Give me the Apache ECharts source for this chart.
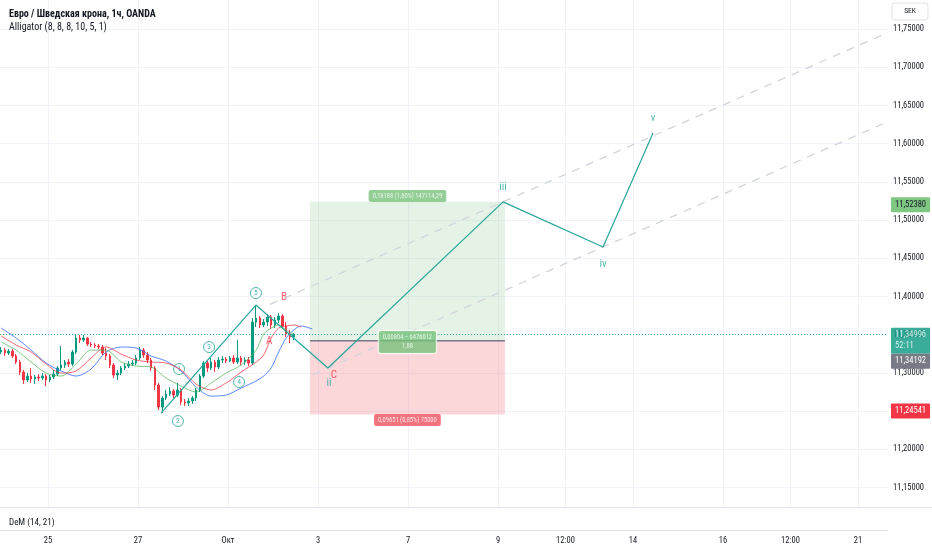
<!DOCTYPE html>
<html><head><meta charset="utf-8">
<script src="https://cdn.jsdelivr.net/npm/echarts@6/dist/echarts.min.js"></script>
<style>html,body{margin:0;padding:0;background:#fff}#c{width:932px;height:550px}</style>
</head><body><div id="c"></div>
<script>
// ---------- DATA ----------
// time unit: trading hours from 25 Sep 00:00
const candleStartHour = -25;
const candleStepHours = 2;
const candleOpen = [11.3272,11.3298,11.3259,11.3285,11.3220,11.3141,11.3010,11.2906,11.2958,11.2919,
11.2945,11.2932,11.2958,11.2906,11.2945,11.2984,11.3063,11.3102,11.3141,11.3115,
11.3272,11.3456,11.3429,11.3456,11.3377,11.3364,11.3351,11.3338,11.3259,11.3220,
11.3102,11.2971,11.2997,11.3063,11.3089,11.3115,11.3128,11.3194,11.3298,11.3233,
11.3168,11.3063,11.2840,11.2552,11.2670,11.2723,11.2762,11.2709,11.2775,11.2618,
11.2605,11.2631,11.2670,11.2775,11.2958,11.3128,11.3063,11.3141,11.3076,11.3168,
11.3181,11.3154,11.3194,11.3141,11.3194,11.3141,11.3168,11.3128,11.3665,11.3717,
11.3626,11.3665,11.3730,11.3626,11.3691,11.3743,11.3613,11.3508,11.3469];
const candleClose = [11.3298,11.3259,11.3285,11.3220,11.3141,11.3010,11.2906,11.2958,11.2919,11.2945,
11.2932,11.2958,11.2906,11.2945,11.2984,11.3063,11.3102,11.3141,11.3115,11.3272,
11.3456,11.3429,11.3456,11.3377,11.3364,11.3351,11.3338,11.3259,11.3220,11.3102,
11.2971,11.2997,11.3063,11.3089,11.3115,11.3128,11.3194,11.3298,11.3233,11.3168,
11.3063,11.2840,11.2552,11.2670,11.2723,11.2762,11.2709,11.2775,11.2618,11.2605,
11.2631,11.2670,11.2775,11.2958,11.3128,11.3063,11.3141,11.3076,11.3168,11.3181,
11.3154,11.3194,11.3141,11.3194,11.3141,11.3168,11.3128,11.3665,11.3717,11.3626,
11.3665,11.3730,11.3626,11.3691,11.3743,11.3613,11.3508,11.3469,11.34996];
const candleLow = [11.3246,11.3220,11.3233,11.3194,11.3115,11.2971,11.2853,11.2880,11.2867,11.2853,
11.2893,11.2906,11.2827,11.2880,11.2919,11.2958,11.3037,11.3063,11.3076,11.3089,
11.3246,11.3390,11.3403,11.3351,11.3338,11.3325,11.3312,11.3233,11.3168,11.3063,
11.2932,11.2906,11.2971,11.3037,11.3063,11.3089,11.3102,11.3168,11.3194,11.3128,
11.3024,11.2775,11.2513,11.2474,11.2644,11.2696,11.2670,11.2683,11.2579,11.2565,
11.2565,11.2592,11.2631,11.2749,11.2932,11.3010,11.3037,11.3010,11.3050,11.3128,
11.3128,11.3141,11.3115,11.3115,11.3102,11.3102,11.3089,11.3102,11.3599,11.3586,
11.3599,11.3613,11.3573,11.3586,11.3652,11.3573,11.3469,11.3390,11.3429];
const candleHigh = [11.3338,11.3325,11.3312,11.3312,11.3246,11.3168,11.3037,11.2997,11.3063,11.2971,
11.2984,11.2997,11.2984,11.2971,11.3037,11.3089,11.3351,11.3168,11.3181,11.3298,
11.3495,11.3495,11.3495,11.3469,11.3403,11.3390,11.3377,11.3364,11.3325,11.3246,
11.3128,11.3037,11.3089,11.3128,11.3154,11.3168,11.3233,11.3338,11.3325,11.3272,
11.3194,11.3089,11.2867,11.2696,11.2775,11.2814,11.2788,11.2867,11.2801,11.2657,
11.2670,11.2696,11.2801,11.2984,11.3154,11.3168,11.3194,11.3168,11.3207,11.3220,
11.3207,11.3220,11.3233,11.3429,11.3220,11.3207,11.3207,11.3717,11.3874,11.3743,
11.3704,11.3770,11.3757,11.3730,11.3783,11.3770,11.3665,11.3560,11.3521];

// Alligator lines (sampled)
const allyHours = [-25,-17,-9,-1,7,15,23,31,39,47,55,63,71,79,87,95,103,111,115,119,123,127,131,135,141];
const jawValues = [11.3586,11.3456,11.3298,11.3128,11.3024,11.2958,11.3050,11.3272,11.3338,11.3325,11.3220,11.3154,11.3024,11.2814,11.2696,11.2709,11.2801,11.2893,11.2958,11.3063,11.3272,11.3456,11.3560,11.3613,11.3573];
const teethValues = [11.3482,11.3364,11.3272,11.3115,11.2997,11.3024,11.3194,11.3338,11.3246,11.3168,11.3141,11.3128,11.3037,11.2853,11.2775,11.2867,11.3010,11.3141,11.3233,11.3456,11.3586,11.3613,11.3626,11.3599];
const lipsValues = [11.3403,11.3298,11.3141,11.2997,11.2958,11.3115,11.3298,11.3298,11.3141,11.3089,11.3076,11.2932,11.2827,11.2749,11.2867,11.2997,11.3102,11.3298,11.3508,11.3586,11.3626,11.3560,11.3508];

// Elliott wave path (start -> 5 -> C/ii -> iii -> iv -> v)
const waveHours  = [60.3, 110.9, 149.3, 242.7, 296.0, 322.7];
const wavePrices = [11.2474, 11.3887, 11.3063, 11.5238, 11.4647, 11.6139];

// Channel (dashed)
const lowerChannelHours = [141.3, 448];
const lowerChannelPrices = [11.2977, 11.6288];
const upperChannelHours = [118.4, 448];
const upperChannelPrices = [11.3896, 11.7455];

// Circled impulse labels
const circledText   = ['1','2','3','4','5'];
const circledHours  = [69.9, 69.3, 85.9, 101.9, 110.9];
const circledPrices = [11.3050, 11.2369, 11.3338, 11.2880, 11.4045];

// Sub-wave labels (teal) and correction labels (red)
const waveText   = ['ii','iii','iv','v'];
const waveTHours = [149.9, 242.7, 296.0, 322.7];
const waveTPrices= [11.2867, 11.5432, 11.4424, 11.6335];
const abcText    = ['A','B','C'];
const abcHours   = [117.9, 125.9, 152.5];
const abcPrices  = [11.3416, 11.3992, 11.2971];

// Long position
const posStartHour = 139.7, posEndHour = 243.7, posMidHour = 191.7;
const tpPrice = 11.5238, entryPrice = 11.34192, slPrice = 11.24541;
const posLabelTexts = ['0,18188 (1,60%) 147114,29', '0,00804 − 6476012\n1,88', '0,09651 (0,85%) 75000'];
const posLabelPrices = [11.5314, 11.3403, 11.2382];

const lastPrice = 11.34996, countdown = '52:11';

// Axes
const yTicks = [11.15,11.20,11.25,11.30,11.35,11.40,11.45,11.50,11.55,11.60,11.65,11.70,11.75];
const xTickHours  = [0,48,96,144,192,240,276,312,360,396,432];
const xTickLabels = ['25','27','Окт','3','7','9','12:00','14','16','12:00','21'];

// ---------- CHART ----------
const FONT = "'Liberation Sans Narrow','Roboto Condensed','Liberation Sans',sans-serif";
const TXT = '#131722';
const chart = echarts.init(document.getElementById('c'), null, {renderer:'canvas'});

const candleData = candleOpen.map((o,i)=>[candleStartHour + i*candleStepHours, o, candleClose[i], candleLow[i], candleHigh[i]]);
const zip = (xs, ys) => ys.map((y,i)=>[xs[i], y]);
const fmtPrice = v => v.toFixed(5).replace('.', ',');

const X_MIN = -25.6, X_MAX = 448;
const Y_MIN = 11.1244, Y_MAX = 11.788;

const tagLabel = (text, bg, fg, offY) => ({
  show:true, position:'end', formatter:text, distance:3,
  backgroundColor:bg, color:fg, padding:[2,4,2,4], fontSize:8.5, fontFamily:FONT,
  lineHeight:11, borderRadius:1, offset:[0,offY||0]
});
const hiddenLine = {color:'rgba(0,0,0,0)', width:0};

const option = {
  animation:false,
  backgroundColor:'#fff',
  title:[
    {text:'Евро / Шведская крона, 1ч, OANDA', left:4, top:4, textStyle:{fontSize:10, fontWeight:'bold', color:TXT, fontFamily:FONT}},
    {text:'Alligator (8, 8, 8, 10, 5, 1)', left:4, top:17, textStyle:{fontSize:10, fontWeight:'normal', color:TXT, fontFamily:FONT}},
    {text:'DeM (14, 21)', left:4, top:513, textStyle:{fontSize:9, fontWeight:'normal', color:TXT, fontFamily:FONT}}
  ],
  grid:[
    {left:0, right:44, top:0, height:507},
    {left:0, right:44, top:508, height:22}
  ],
  xAxis:[
    {gridIndex:0, type:'value', min:X_MIN, max:X_MAX,
     axisLine:{show:false}, axisTick:{show:false, customValues:xTickHours},
     axisLabel:{show:false},
     splitLine:{show:true, lineStyle:{color:'#f0f3fa', width:1}}},
    {gridIndex:1, type:'value', min:X_MIN, max:X_MAX,
     axisLine:{show:true, lineStyle:{color:'#e0e3eb'}}, axisTick:{show:false, customValues:xTickHours},
     splitLine:{show:false},
     axisLabel:{show:true, customValues:xTickHours, margin:6, fontSize:8.5, color:TXT, fontFamily:FONT,
       formatter:v=>{const k=xTickHours.findIndex(h=>Math.abs(h-v)<0.01);return k>=0?xTickLabels[k]:'';}}}
  ],
  yAxis:[
    {gridIndex:0, type:'value', position:'right', min:Y_MIN, max:Y_MAX,
     axisLine:{show:false}, axisTick:{show:false, customValues:yTicks},
     axisLabel:{show:true, customValues:yTicks, margin:5, fontSize:8.5, color:TXT, fontFamily:FONT, formatter:fmtPrice},
     splitLine:{show:true, lineStyle:{color:'#f0f3fa', width:1}}},
    {gridIndex:1, type:'value', show:false, min:0, max:100}
  ],
  graphic:[
    {type:'line', shape:{x1:0,y1:507.5,x2:932,y2:507.5}, style:{stroke:'#e0e3eb', lineWidth:1}, silent:true},
    {type:'rect', shape:{x:892,y:3,width:36,height:17,r:3}, style:{fill:'#fff', stroke:'#e0e3eb', lineWidth:1}},
    {type:'text', x:910, y:11.5, style:{text:'SEK', fill:TXT, fontSize:7.5, fontFamily:FONT, align:'center', verticalAlign:'middle'}}
  ],
  series:[
    { // position box
      type:'line', data:[], xAxisIndex:0, yAxisIndex:0, silent:true,
      markArea:{silent:true, data:[
        [{coord:[posStartHour, tpPrice], itemStyle:{color:'rgba(76,175,80,0.15)'}},{coord:[posEndHour, entryPrice]}],
        [{coord:[posStartHour, entryPrice], itemStyle:{color:'rgba(242,54,69,0.2)'}},{coord:[posEndHour, slPrice]}]
      ]}
    },
    { type:'line', data:zip(upperChannelHours, upperChannelPrices), showSymbol:false, silent:true,
      lineStyle:{color:'#d1d4dc', width:1.3, type:[8,7]} },
    { type:'line', data:zip(lowerChannelHours, lowerChannelPrices), showSymbol:false, silent:true,
      lineStyle:{color:'#d1d4dc', width:1.3, type:[8,7]} },
    { type:'line', data:zip(allyHours, jawValues), showSymbol:false, smooth:0.3, silent:true,
      lineStyle:{color:'#2962ff', width:1, opacity:0.75} },
    { type:'line', data:zip(allyHours, teethValues), showSymbol:false, smooth:0.3, silent:true,
      lineStyle:{color:'#f23645', width:1, opacity:0.75} },
    { type:'line', data:zip(allyHours, lipsValues), showSymbol:false, smooth:0.3, silent:true,
      lineStyle:{color:'#4caf50', width:1, opacity:0.7} },
    { type:'candlestick', data:candleData, encode:{x:0, y:[1,2,3,4]}, barWidth:2.2,
      itemStyle:{color:'#089981', color0:'#f23645', borderColor:'#089981', borderColor0:'#f23645', borderWidth:1},
      markLine:{silent:true, symbol:['none','none'], animation:false, data:[
        {yAxis:lastPrice, lineStyle:{type:[1,2], color:'#089981', width:1, opacity:0.8},
          label:tagLabel(fmtPrice(lastPrice)+'\n'+countdown, '#089981', '#fff', 6)},
        {yAxis:entryPrice, lineStyle:hiddenLine, label:tagLabel(fmtPrice(entryPrice), '#787b86', '#fff', 19)},
        {yAxis:tpPrice, lineStyle:hiddenLine, label:tagLabel(fmtPrice(tpPrice), '#81c784', TXT, 0)},
        {yAxis:slPrice, lineStyle:hiddenLine, label:tagLabel(fmtPrice(slPrice), '#f23645', '#fff', 0)}
      ]}
    },
    { type:'line', data:[[posStartHour, entryPrice],[posEndHour, entryPrice]], showSymbol:false, silent:true,
      lineStyle:{color:'#787b86', width:1.5} },
    { type:'line', data:zip(waveHours, wavePrices), showSymbol:false, silent:true,
      lineStyle:{color:'#26a69a', width:1.2} },
    { type:'scatter', data:zip(circledHours, circledPrices), symbol:'circle', symbolSize:11, silent:true,
      itemStyle:{color:'#fff', borderColor:'#26a69a', borderWidth:1},
      label:{show:true, position:'inside', formatter:p=>circledText[p.dataIndex], color:'#26a69a', fontSize:7.5, fontFamily:FONT} },
    { type:'scatter', data:zip(waveTHours, waveTPrices), symbolSize:0, silent:true,
      label:{show:true, position:'inside', formatter:p=>waveText[p.dataIndex], color:'#26a69a', fontSize:11, fontFamily:FONT} },
    { type:'scatter', data:zip(abcHours, abcPrices), symbolSize:0, silent:true,
      label:{show:true, position:'inside', formatter:p=>abcText[p.dataIndex], color:'#f23645', fontSize:11, fontFamily:FONT} },
    { type:'scatter', symbolSize:0, silent:true, z:5,
      data:[
        {value:[posMidHour, posLabelPrices[0]], label:{backgroundColor:'#77c27b', color:'#fff'}},
        {value:[posMidHour, posLabelPrices[1]], label:{backgroundColor:'#77c27b', color:'#fff', borderColor:'#fff', borderWidth:1, lineHeight:9}},
        {value:[posMidHour, posLabelPrices[2]], label:{backgroundColor:'#f0505f', color:'#fff'}}
      ],
      label:{show:true, position:'inside', formatter:p=>posLabelTexts[p.dataIndex], fontSize:6.5, fontFamily:FONT,
        padding:[2,4,2,4], borderRadius:2, align:'center', lineHeight:8} }
  ]
};
chart.setOption(option);
</script></body></html>
